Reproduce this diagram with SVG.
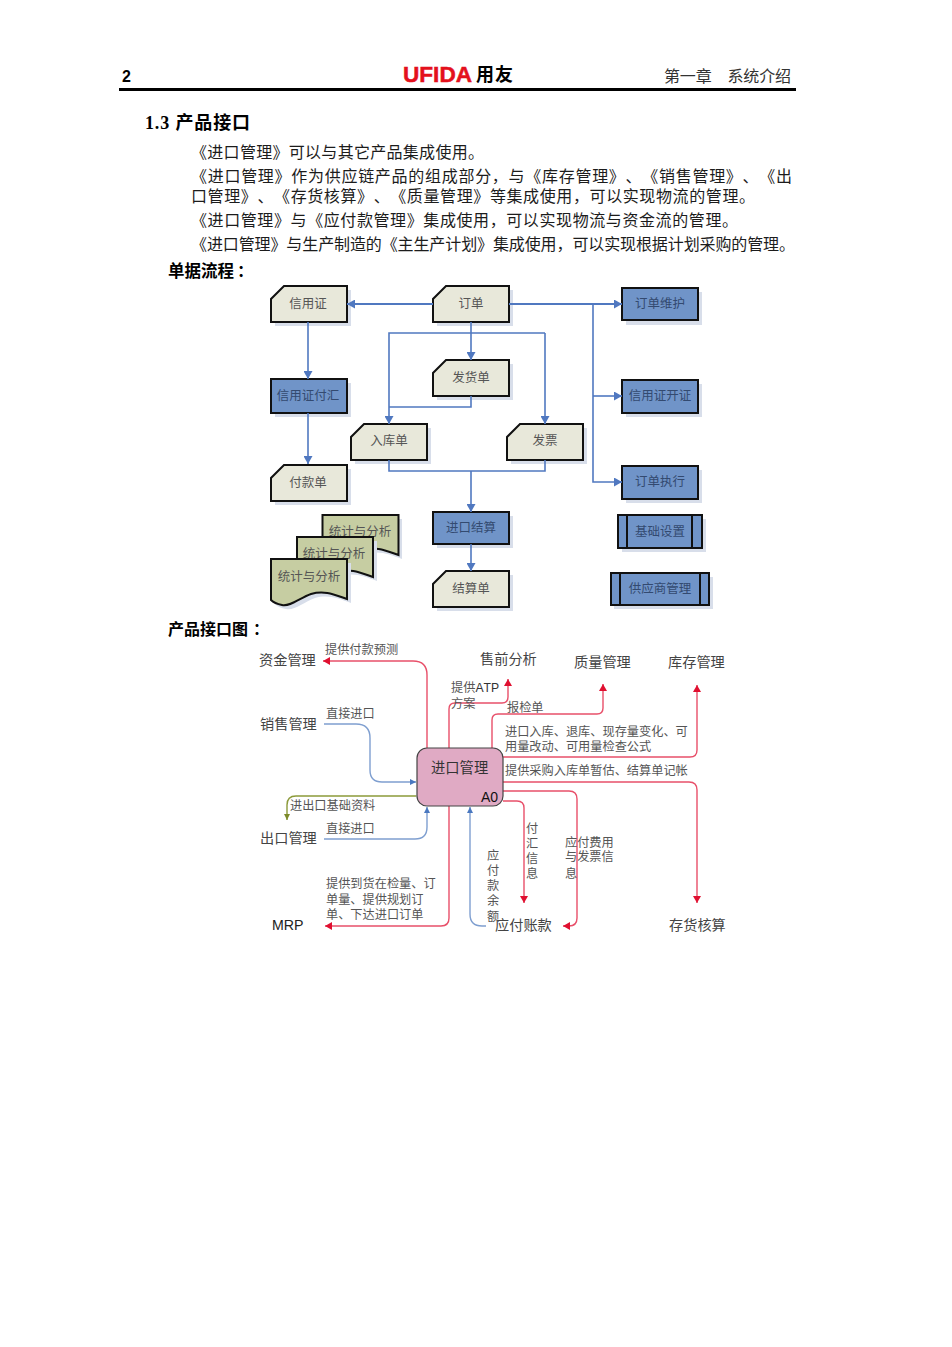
<svg xmlns="http://www.w3.org/2000/svg" width="952" height="1347" viewBox="0 0 952 1347">
<style>
text{font-family:"Liberation Serif","Noto Sans CJK SC",serif;fill:#222;text-spacing-trim:space-all;font-kerning:none}
.lat{font-family:"Liberation Sans","Noto Sans CJK SC",sans-serif}
.body{font-size:16px;fill:#1c1c1c}
.bold{font-weight:700;fill:#000}
.n{font-size:12.5px;fill:#555;text-anchor:middle}
.bt{fill:#334a70}
.s{fill:#d8deea}
.doc{fill:#e8e8da;stroke:#111;stroke-width:2;stroke-linejoin:miter}
.pro{fill:#7094c8;stroke:#111;stroke-width:2}
.sta{fill:#c6cda2;stroke:#111;stroke-width:2}
.in{fill:none;stroke:#111;stroke-width:2}
.fl{fill:none;stroke:#5078c0;stroke-width:1.6}
.thick{stroke-width:2}
.t{font-size:14.2px;fill:#444}
.e{font-size:12.2px;fill:#555}
.r{fill:none;stroke:#e8506a;stroke-width:1.4}
.b{fill:none;stroke:#7f9fd0;stroke-width:1.4}
.o{fill:none;stroke:#8c9a3a;stroke-width:1.4}
</style>
<defs>
<marker id="af" markerUnits="userSpaceOnUse" markerWidth="9" markerHeight="9" refX="8" refY="4.5" orient="auto"><path d="M0,0L8,4.5L0,9Z" fill="#5078c0"/></marker>
<marker id="ar" markerUnits="userSpaceOnUse" markerWidth="8" markerHeight="8" refX="7" refY="4" orient="auto"><path d="M0,0L7,4L0,8Z" fill="#e01030"/></marker>
<marker id="ab" markerUnits="userSpaceOnUse" markerWidth="7" markerHeight="7" refX="6" refY="3.5" orient="auto"><path d="M0,0.5L6,3.5L0,6.5Z" fill="#4a78c0"/></marker>
<marker id="ao" markerUnits="userSpaceOnUse" markerWidth="7" markerHeight="7" refX="6" refY="3.5" orient="auto"><path d="M0,0.5L6,3.5L0,6.5Z" fill="#7c8a2a"/></marker>
<path id="ch" d="M13,0H76V36H0V13Z"/>
<path id="wave" d="M0,0H76V40C64,36 54,31 40,35C29,39 19,48 11,46C6,45 3,44 0,41Z"/>
</defs>

<g id="header">
<text class="lat bold" x="122" y="82" font-size="16">2</text>
<text class="lat" x="403" y="82" font-size="22" font-weight="700" style="fill:#e4101c;stroke:#e4101c;stroke-width:.5" textLength="69" lengthAdjust="spacingAndGlyphs">UFIDA</text>
<text class="lat bold" x="476" y="81" font-size="18" textLength="37">用友</text>
<text x="664" y="82" font-size="16" style="fill:#333" textLength="127" xml:space="preserve">第一章　系统介绍</text>
<rect x="119" y="88" width="677" height="3" fill="#000"/>
</g>

<g id="content-text">
<text class="bold" x="145" y="129" font-size="18" textLength="105">1.3 产品接口</text>
<text class="body" x="191" y="158" textLength="293">《进口管理》可以与其它产品集成使用。</text>
<text class="body" x="191" y="182" textLength="601">《进口管理》作为供应链产品的组成部分，与《库存管理》、《销售管理》、《出</text>
<text class="body" x="191" y="202" textLength="564">口管理》、《存货核算》、《质量管理》等集成使用，可以实现物流的管理。</text>
<text class="body" x="191" y="226" textLength="547">《进口管理》与《应付款管理》集成使用，可以实现物流与资金流的管理。</text>
<text class="body" x="191" y="250" textLength="604">《进口管理》与生产制造的《主生产计划》集成使用，可以实现根据计划采购的管理。</text>
<text class="bold" x="168" y="277" font-size="16.500">单据流程<tspan dx="3">：</tspan></text>
<text class="bold" x="168" y="635" font-size="16">产品接口图<tspan dx="5">：</tspan></text>
</g>

<g id="n-xyz"><use href="#ch" x="275" y="290" class="s"/><use href="#ch" x="271" y="286" class="doc"/><text class="n" x="308" y="308">信用证</text></g>
<g id="n-dd"><use href="#ch" x="437" y="290" class="s"/><use href="#ch" x="433" y="286" class="doc"/><text class="n" x="471" y="308">订单</text></g>
<g id="n-fhd"><use href="#ch" x="437" y="364" class="s"/><use href="#ch" x="433" y="360" class="doc"/><text class="n" x="471" y="382">发货单</text></g>
<g id="n-rkd"><use href="#ch" x="355" y="428" class="s"/><use href="#ch" x="351" y="424" class="doc"/><text class="n" x="389" y="445">入库单</text></g>
<g id="n-fp"><use href="#ch" x="511" y="428" class="s"/><use href="#ch" x="507" y="424" class="doc"/><text class="n" x="545" y="445">发票</text></g>
<g id="n-fkd"><use href="#ch" x="275" y="469" class="s"/><use href="#ch" x="271" y="465" class="doc"/><text class="n" x="308" y="487">付款单</text></g>
<g id="n-jsd"><use href="#ch" x="437" y="575" class="s"/><use href="#ch" x="433" y="571" class="doc"/><text class="n" x="471" y="593">结算单</text></g>

<g id="n-xyzfh"><rect x="275" y="383" width="76" height="34" class="s"/><rect x="271" y="379" width="76" height="34" class="pro"/><text class="n bt" x="308" y="400">信用证付汇</text></g>
<g id="n-ddwh"><rect x="626" y="292" width="76" height="33" class="s"/><rect x="622" y="288" width="76" height="32" class="pro"/><text class="n bt" x="660" y="308">订单维护</text></g>
<g id="n-xyzkz"><rect x="626" y="384" width="76" height="33" class="s"/><rect x="622" y="380" width="76" height="33" class="pro"/><text class="n bt" x="660" y="400">信用证开证</text></g>
<g id="n-ddzx"><rect x="626" y="470" width="76" height="33" class="s"/><rect x="622" y="466" width="76" height="33" class="pro"/><text class="n bt" x="660" y="486">订单执行</text></g>
<g id="n-jkjs"><rect x="437" y="516" width="76" height="32" class="s"/><rect x="433" y="512" width="76" height="32" class="pro"/><text class="n bt" x="471" y="532">进口结算</text></g>
<g id="n-jcsz"><rect x="622" y="519" width="84" height="33" class="s"/><rect x="618" y="515" width="84" height="33" class="pro"/><path class="in" d="M627,515V548M692,515V548"/><text class="n bt" x="660" y="536">基础设置</text></g>
<g id="n-gysgl"><rect x="614" y="577" width="99" height="32" class="s"/><rect x="611" y="573" width="98" height="32" class="pro"/><path class="in" d="M620,573V605M700,573V605"/><text class="n bt" x="660" y="593">供应商管理</text></g>

<g id="n-tj3"><use href="#wave" x="326" y="519" class="s"/><use href="#wave" x="322.500" y="515" class="sta"/><text class="n" x="360" y="536">统计与分析</text></g>
<g id="n-tj2"><use href="#wave" x="301" y="541" class="s"/><use href="#wave" x="297" y="537" class="sta"/><text class="n" x="334" y="558">统计与分析</text></g>
<g id="n-tj1"><use href="#wave" x="275" y="563" class="s"/><use href="#wave" x="271" y="559" class="sta"/><text class="n" x="309" y="581">统计与分析</text></g>

<g id="flow-connectors">
<path class="fl thick" d="M433,304H347" marker-end="url(#af)"/>
<path class="fl thick" d="M509,304H622" marker-end="url(#af)"/>
<path class="fl" d="M593,304V482H622" marker-end="url(#af)"/>
<path class="fl" d="M593,396H622" marker-end="url(#af)"/>
<path class="fl" d="M308,322V379" marker-end="url(#af)"/>
<path class="fl" d="M308,413V464" marker-end="url(#af)"/>
<path class="fl" d="M471,322V360" marker-end="url(#af)"/>
<path class="fl" d="M545,333H389V424" marker-end="url(#af)"/>
<path class="fl" d="M545,333V424" marker-end="url(#af)"/>
<path class="fl" d="M471,396V407H389"/>
<path class="fl" d="M389,460V471H545V460"/>
<path class="fl" d="M471,471V512" marker-end="url(#af)"/>
<path class="fl" d="M471,544V571" marker-end="url(#af)"/>
</g>

<g id="ifc-connectors">
<path class="r" d="M427,748V675Q427,661 413,661H323" marker-end="url(#ar)"/>
<path class="r" d="M449,748V709Q449,703 455,703H502Q508,703 508,697V679" marker-end="url(#ar)"/>
<path class="r" d="M492,748V720Q492,714 498,714H597Q603,714 603,708V684" marker-end="url(#ar)"/>
<path class="r" d="M503,757H690Q697,757 697,750V685" marker-end="url(#ar)"/>
<path class="r" d="M503,782H689Q697,782 697,790V903" marker-end="url(#ar)"/>
<path class="r" d="M503,791H569Q577,791 577,799V918Q577,926 569,926H563" marker-end="url(#ar)"/>
<path class="r" d="M503,801H517Q524,801 524,808V903" marker-end="url(#ar)"/>
<path class="r" d="M449,806V918Q449,926 441,926H325" marker-end="url(#ar)"/>
<path class="b" d="M324,724H356Q370,724 370,738V770Q370,782 382,782H416" marker-end="url(#ab)"/>
<path class="b" d="M324,839H415Q427,839 427,827V807" marker-end="url(#ab)"/>
<path class="b" d="M486,926H482Q470,926 470,914V807" marker-end="url(#ab)"/>
<path class="o" d="M416,796H296Q287,796 287,805V820" marker-start="url(#ao)" marker-end="url(#ao)"/>
</g>

<g id="n-jkgl">
<rect x="417" y="748" width="86" height="58" rx="10" fill="#e0aac4" stroke="#444" stroke-width="1.2"/>
<text x="431" y="773" font-size="14.300" style="fill:#333">进口管理</text>
<text class="lat" x="481" y="802" font-size="14" style="fill:#111">A0</text>
</g>
<g id="n-zjgl"><text class="t" x="259" y="665">资金管理</text></g>
<g id="n-xsgl"><text class="t" x="260" y="729">销售管理</text></g>
<g id="n-ckgl"><text class="t" x="260" y="843">出口管理</text></g>
<g id="n-mrp"><text class="t lat" x="272" y="930" style="fill:#222">MRP</text></g>
<g id="n-sqfx"><text class="t" x="480" y="664">售前分析</text></g>
<g id="n-zlgl"><text class="t" x="574" y="667">质量管理</text></g>
<g id="n-kcgl"><text class="t" x="668" y="667">库存管理</text></g>
<g id="n-yfzk"><text class="t" x="495" y="930">应付账款</text></g>
<g id="n-chhs"><text class="t" x="669" y="930">存货核算</text></g>

<g id="ifc-labels">
<text class="e" x="325" y="654">提供付款预测</text>
<text class="e" x="451" y="692">提供<tspan class="lat" style="fill:#333">ATP</tspan></text>
<text class="e" x="451" y="708">方案</text>
<text class="e" x="507" y="712">报检单</text>
<text class="e" x="505" y="736">进口入库、退库、现存量变化、可</text>
<text class="e" x="505" y="751">用量改动、可用量检查公式</text>
<text class="e" x="505" y="775">提供采购入库单暂估、结算单记帐</text>
<text class="e" x="326" y="718">直接进口</text>
<text class="e" x="290" y="810">进出口基础资料</text>
<text class="e" x="326" y="833">直接进口</text>
<text class="e" x="326" y="888">提供到货在检量、订</text>
<text class="e" x="326" y="904">单量、提供规划订</text>
<text class="e" x="326" y="919">单、下达进口订单</text>
<text class="e" x="487" y="860">应</text>
<text class="e" x="487" y="875">付</text>
<text class="e" x="487" y="890">款</text>
<text class="e" x="487" y="905">余</text>
<text class="e" x="487" y="921">额</text>
<text class="e" x="526" y="833">付</text>
<text class="e" x="526" y="848">汇</text>
<text class="e" x="526" y="863">信</text>
<text class="e" x="526" y="878">息</text>
<text class="e" x="565" y="847">应付费用</text>
<text class="e" x="565" y="861">与发票信</text>
<text class="e" x="565" y="878">息</text>
</g>
</svg>
